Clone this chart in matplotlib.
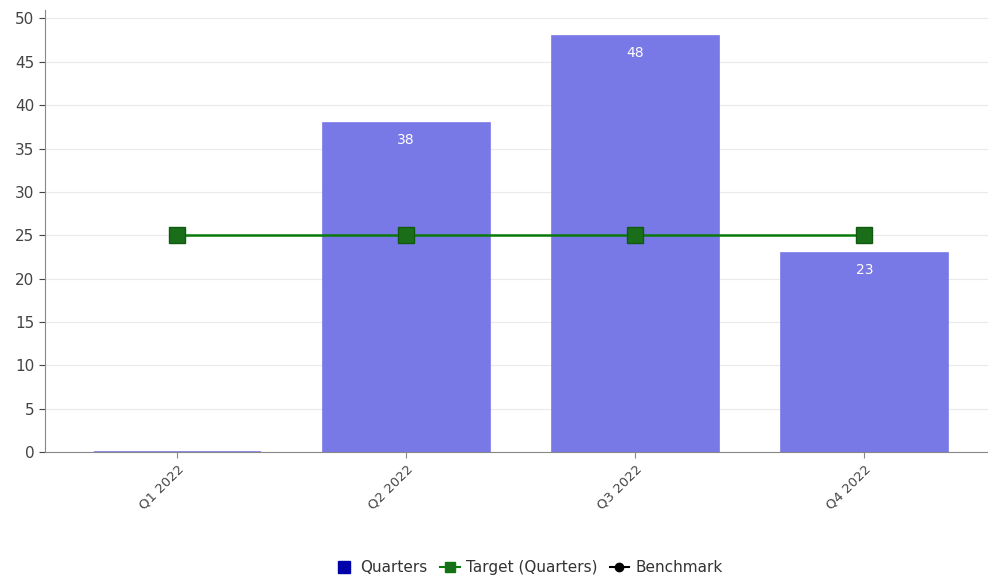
import matplotlib
matplotlib.use("Agg")
import matplotlib.pyplot as plt
from matplotlib.lines import Line2D

quarters = ["Q1 2022", "Q2 2022", "Q3 2022", "Q4 2022"]
values = [0, 38, 48, 23]
target = [25, 25, 25, 25]
y_ticks = [0, 5, 10, 15, 20, 25, 30, 35, 40, 45, 50]

fig = plt.figure(figsize=(9.88, 5.76), dpi=100)
ax = fig.add_axes([0.0455, 0.2153, 0.9545, 0.7677])

x = list(range(len(quarters)))
bars = ax.bar(x, values, width=0.73, color="#7878e6", edgecolor="#7878e6",
              linewidth=1.2, zorder=2)
for xi, v in zip(x, values):
    if v > 0:
        ax.text(xi, v - 1.2, str(v), ha="center", va="top", color="white",
                fontsize=10, zorder=4)

ax.plot(x, target, color="#0a7a0a", linewidth=1.8, marker="s",
        markersize=11, markerfacecolor="#1a6e1a", markeredgecolor="#0f5a0f",
        zorder=3)

ax.set_xlim(-0.577, 3.54)
ax.set_ylim(0, 51)
ax.set_yticks(y_ticks)
ax.set_xticks(x)
ax.set_xticklabels(quarters, rotation=45, ha="right", rotation_mode="anchor",
                   fontsize=9.5, color="#444444")
ax.tick_params(axis="y", labelsize=11, colors="#444444", length=4)
ax.tick_params(axis="x", length=4, colors="#888888")
for lbl in ax.get_xticklabels():
    lbl.set_color("#444444")
ax.yaxis.grid(True, color="#eaeaea", linewidth=0.8, zorder=0)
ax.set_axisbelow(True)
for s in ["top", "right"]:
    ax.spines[s].set_visible(False)
ax.spines["left"].set_color("#888888")
ax.spines["bottom"].set_color("#888888")

handles = [
    Line2D([0], [0], linestyle="none", marker="s", markersize=8,
           markerfacecolor="#0000aa", markeredgecolor="#0000aa", label="Quarters"),
    Line2D([0], [0], color="#0a7a0a", marker="s", markersize=7,
           markerfacecolor="#1a6e1a", label="Target (Quarters)"),
    Line2D([0], [0], color="black", marker="o", markersize=6,
           label="Benchmark"),
]
fig.legend(handles=handles, loc="lower center", bbox_to_anchor=(0.535, -0.022),
           ncol=3, frameon=False, fontsize=11, handlelength=1.3,
           handletextpad=0.4, columnspacing=0.8, labelcolor="#333333")

fig.savefig("out.png", dpi=100)
